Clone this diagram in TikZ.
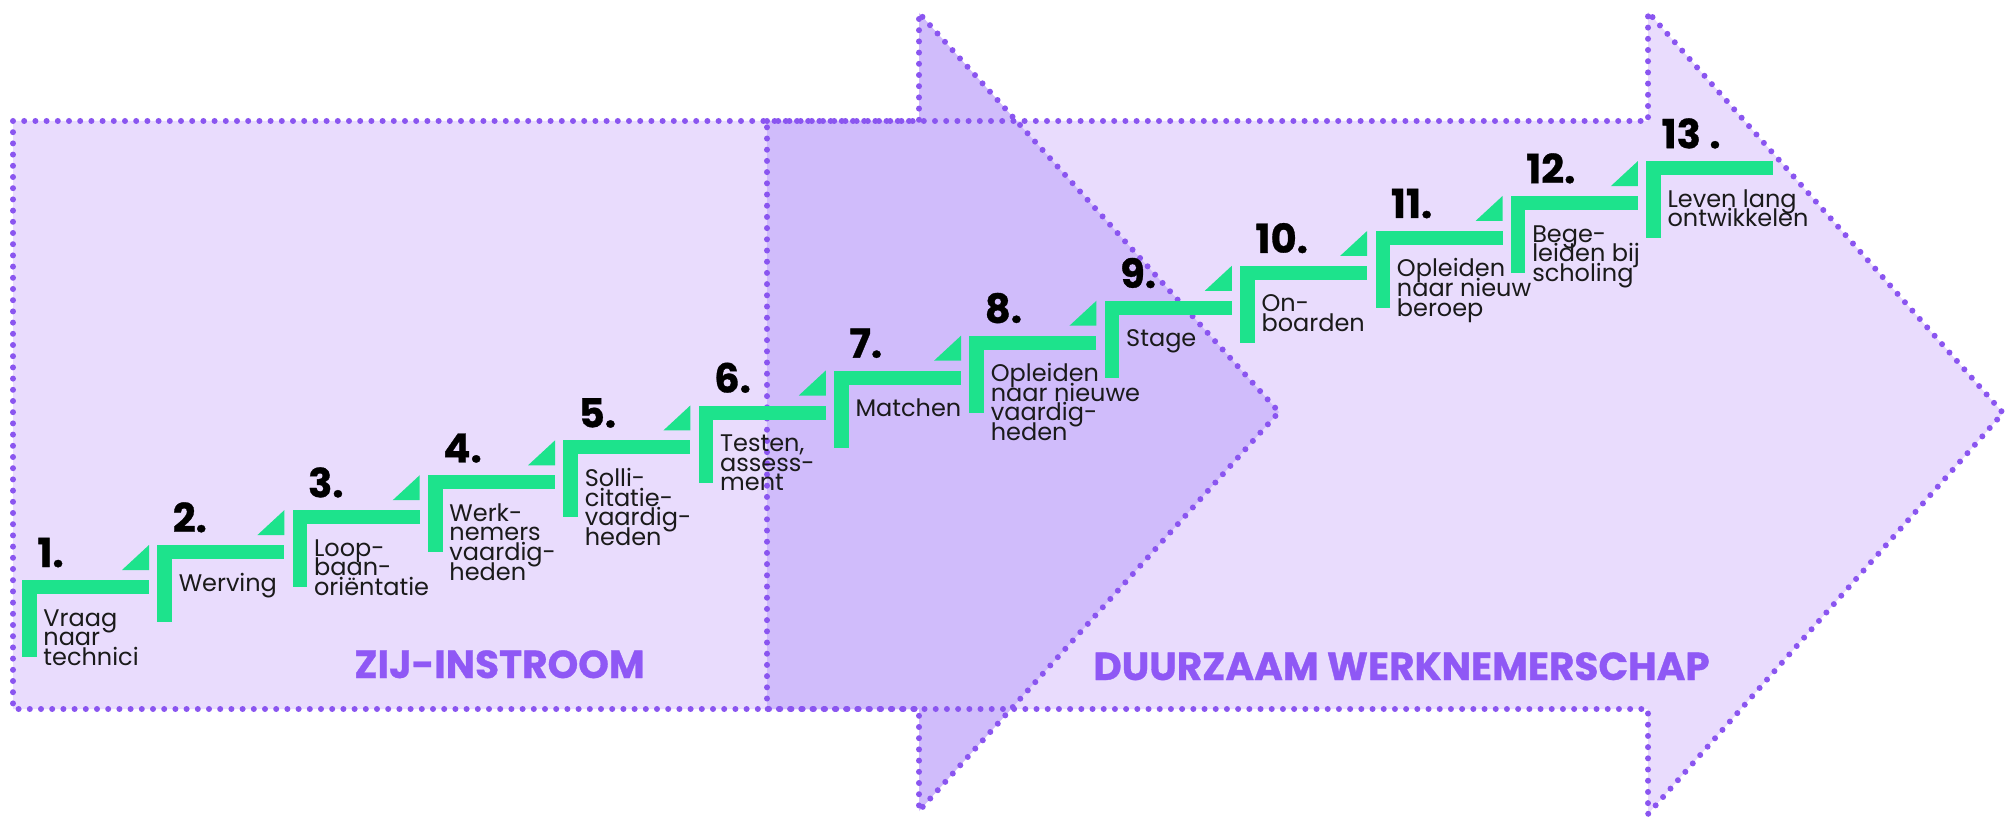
\documentclass[tikz,border=0pt]{standalone}
\usepackage{fontspec}
\setmainfont{Poppins}
\newfontfamily\heavyfont{Poppins}[BoldFeatures={FakeBold=0.8}]
\definecolor{lightp}{HTML}{E9DCFD}
\definecolor{darkp}{HTML}{D0BCFB}
\definecolor{dotp}{HTML}{8A55F0}
\definecolor{headp}{HTML}{8F58F5}
\definecolor{stepg}{HTML}{1DE38C}
\definecolor{txt}{HTML}{1A1A1A}
\newcommand\lbl[1]{\vtop{\lineskiplimit=-\maxdimen\baselineskip=9.8pt\halign{##\hfil\cr#1\crcr}}}
\tikzset{
  dotline/.style={draw=dotp, line width=3pt, line cap=round, dash pattern=on 0pt off 5.6pt},
  numtxt/.style={anchor=base west, inner sep=0pt, font=\heavyfont\fontsize{20}{20}\selectfont\bfseries, text=black},
  lbltxt/.style={anchor=base west, inner sep=0pt, font=\fontsize{12}{9.8}\selectfont, text=txt},
  headtxt/.style={anchor=base west, inner sep=0pt, font=\heavyfont\fontsize{19.5}{20}\selectfont\bfseries, text=headp},
}
\newcommand\stepat[3]{%
  \pgfmathsetmacro\cx{22+(#1-1)*135.35}%
  \pgfmathsetmacro\cy{580-(#1-1)*34.9}%
  \fill[stepg] (\cx,\cy) rectangle ++(127,14);
  \fill[stepg] (\cx,\cy) rectangle ++(14.5,77);
  \ifnum#1<13
    \fill[stepg] (\cx+100,\cy-10) -- ++(27,0) -- ++(0,-25) -- cycle;
  \fi
  \node[numtxt] (n#1) at (\cx+15,\cy-13) {#2};
  \node[lbltxt] (l#1) at (\cx+21,\cy+46) {\lbl{#3}};
}
\begin{document}
\begin{tikzpicture}[x=0.5pt,y=-0.5pt]
\fill[white] (0,0) rectangle (2006,818);
\useasboundingbox (0,0) rectangle (2006,818);
% arrow fills
\fill[lightp] (767,121) -- (1648,121) -- (1648,12) -- (2003,413) -- (1648,814) -- (1648,709) -- (767,709) -- cycle;
\fill[lightp] (13,121) -- (919,121) -- (919,13) -- (1279,412) -- (919,811) -- (919,709) -- (13,709) -- cycle;
\begin{scope}
  \clip (767,0) rectangle (2006,818);
  \fill[darkp] (13,121) -- (919,121) -- (919,13) -- (1279,412) -- (919,811) -- (919,709) -- (13,709) -- cycle;
\end{scope}
% dotted outlines
\draw[dotline] (13,121) -- (919,121) -- (919,13) -- (1279,412) -- (919,811) -- (919,709) -- (13,709) -- cycle;
\draw[dotline] (767,121) -- (1648,121) -- (1648,12) -- (2003,413) -- (1648,814) -- (1648,709) -- (767,709) -- cycle;
% steps
\stepat{1}{1.}{Vraag\cr naar\cr technici}
\stepat{2}{2.}{Werving}
\stepat{3}{3.}{Loop-\cr baan-\cr oriëntatie}
\stepat{4}{4.}{Werk-\cr nemers\cr vaardig-\cr heden}
\stepat{5}{5.}{Solli-\cr citatie-\cr vaardig-\cr heden}
\stepat{6}{6.}{Testen,\cr assess-\cr ment}
\stepat{7}{7.}{Matchen}
\stepat{8}{8.}{Opleiden\cr naar nieuwe\cr vaardig-\cr heden}
\stepat{9}{9.}{Stage}
\stepat{10}{10.}{On-\cr boarden}
\stepat{11}{11.}{Opleiden\cr naar nieuw\cr beroep}
\stepat{12}{12.}{Bege-\cr leiden bij\cr scholing}
\stepat{13}{13 .}{Leven lang\cr ontwikkelen}
% headers
\node[headtxt] (h1) at (354,678) {ZIJ-INSTROOM};
\node[headtxt] (h2) at (1093,680) {DUURZAAM WERKNEMERSCHAP};
\end{tikzpicture}
\end{document}
